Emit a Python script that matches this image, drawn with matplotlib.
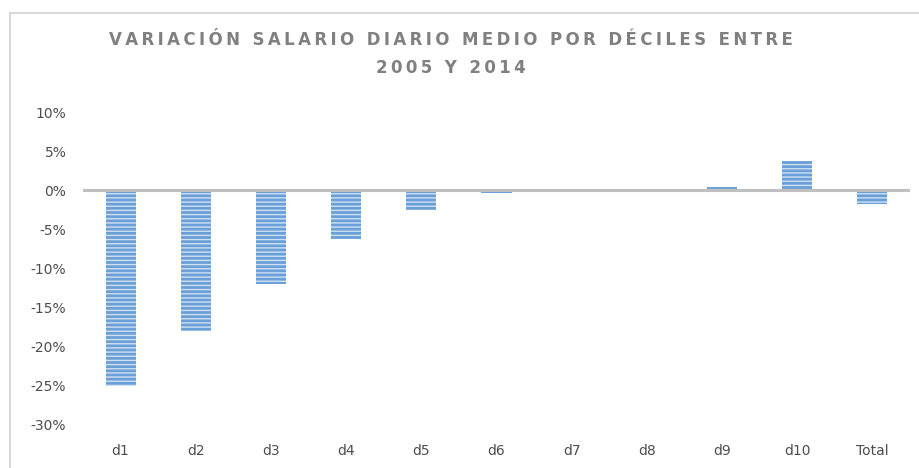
import matplotlib.pyplot as plt
from matplotlib.patches import Rectangle
from matplotlib.ticker import FuncFormatter

deciles = ['d1', 'd2', 'd3', 'd4', 'd5', 'd6', 'd7', 'd8', 'd9', 'd10', 'Total']
variacion = [-25.0, -18.0, -12.0, -6.2, -2.5, -0.4, 0.0, 0.0, 0.4, 3.8, -1.8]
y_ticks = [10, 5, 0, -5, -10, -15, -20, -25, -30]
titulo = ['VARIACIÓN SALARIO DIARIO MEDIO POR DÉCILES ENTRE', '2005 Y 2014']

plt.rcParams['font.family'] = ['DejaVu Sans']
plt.rcParams['hatch.linewidth'] = 1.0

fig = plt.figure(figsize=(9.2, 4.68), dpi=100)
ax = fig.add_axes([83 / 920, 1 - 425 / 468, 827 / 920, 313 / 468])

# borde del grafico (recortado a la derecha y abajo)
fig.patches.append(Rectangle((10 / 920, -0.1), 1.2, 1 - 13 / 468 + 0.1,
                             transform=fig.transFigure, fill=False,
                             edgecolor='#d9d9d9', linewidth=1.5))

x = range(len(deciles))
ax.bar(x, variacion, width=0.4, color='#6a9fd8', edgecolor='#cfe0f3',
       linewidth=0, hatch='----')
ax.axhline(0, color='#bfbfbf', linewidth=2.2, zorder=3)

ax.set_xlim(-0.5, len(deciles) - 0.5)
ax.set_ylim(-30, 10)
ax.set_yticks(y_ticks)
ax.yaxis.set_major_formatter(FuncFormatter(lambda v, p: '%d%%' % v))
ax.set_xticks(list(x))
ax.set_xticklabels(deciles)

for s in ax.spines.values():
    s.set_visible(False)
ax.tick_params(length=0, colors='#4d4d4d', labelsize=10)
ax.tick_params(axis='y', pad=12)
ax.tick_params(axis='x', pad=14)

# espaciado entre letras del titulo con espacios finos
def espaciar(t):
    return '\u2009'.join(t)

fig.text(451 / 920, 1 - 40 / 468, espaciar(titulo[0]), ha='center', va='center',
         fontsize=12, fontweight='bold', color='#808080')
fig.text(451 / 920, 1 - 68 / 468, espaciar(titulo[1]), ha='center', va='center',
         fontsize=12, fontweight='bold', color='#808080')

fig.savefig('out.png', dpi=100)
